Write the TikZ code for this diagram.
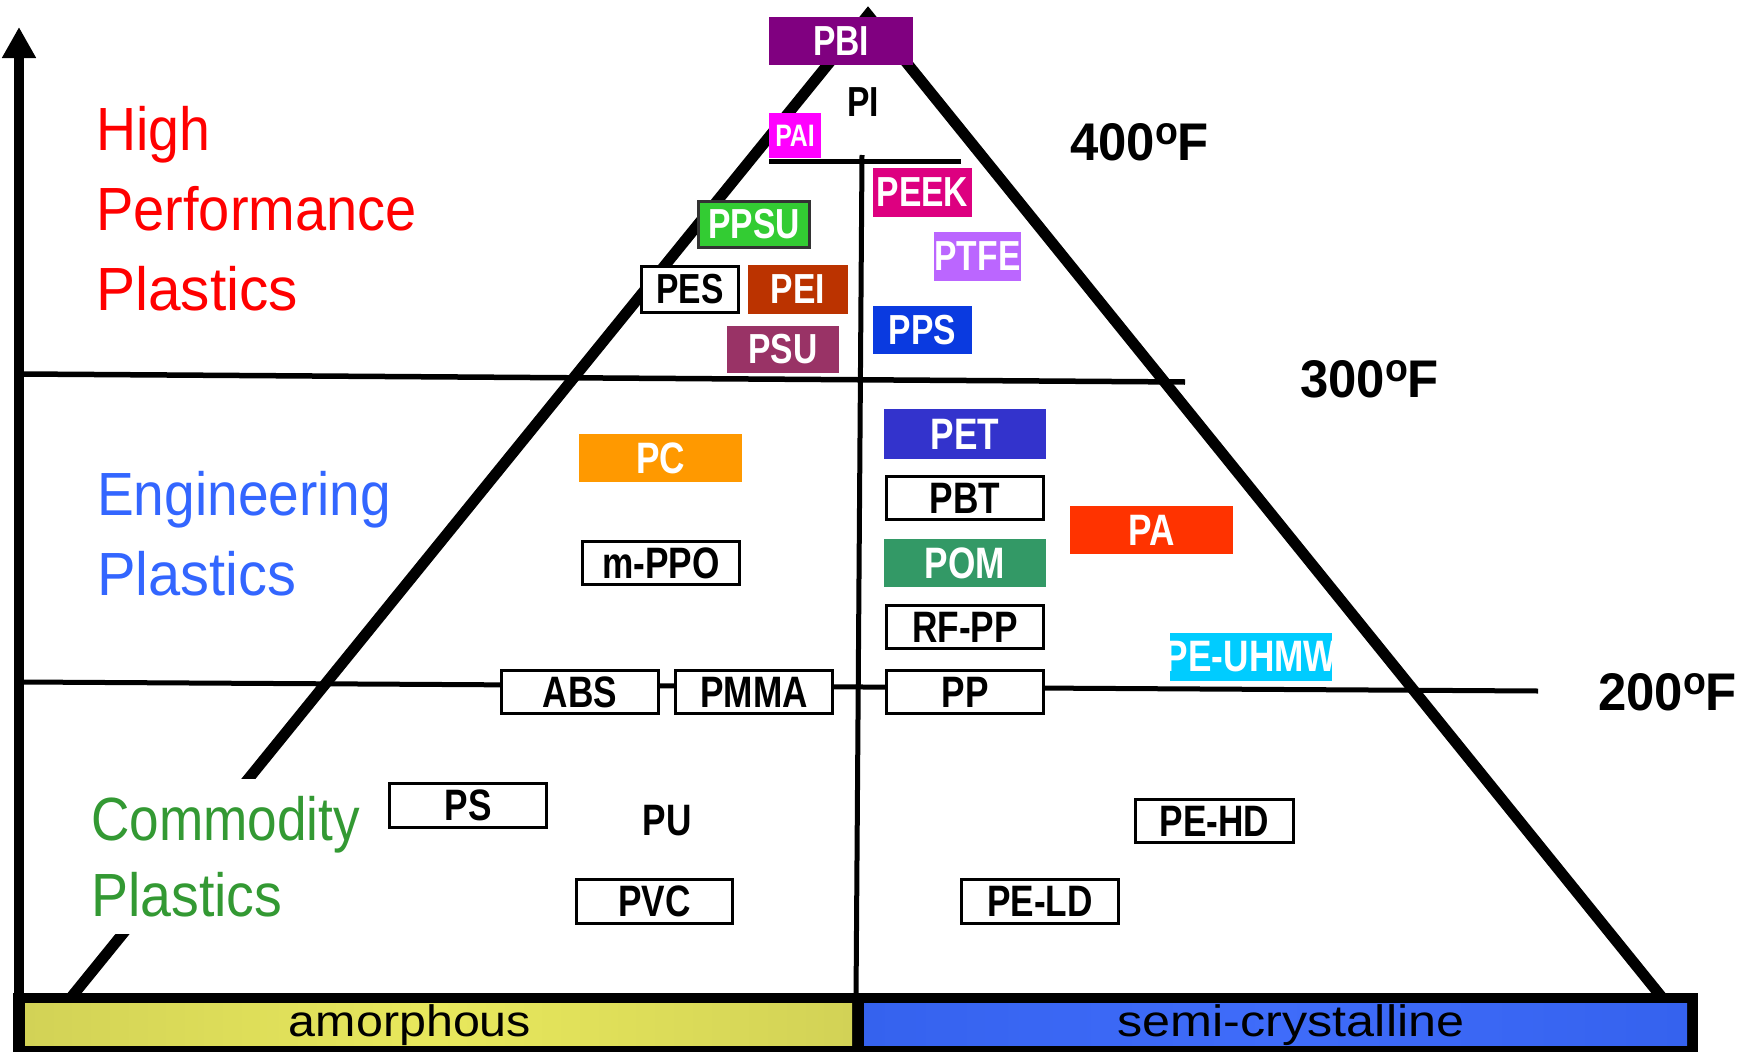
\documentclass[tikz,border=0pt]{standalone}
\usepackage{fontspec}
\setmainfont{Liberation Sans}
\newfontfamily\boxf{Liberation Sans}[FakeStretch=0.8]
\newfontfamily\catf{Liberation Sans}
\newfontfamily\tempf{Liberation Sans}[FakeStretch=0.96]
\newfontfamily\barf{Liberation Sans}[FakeStretch=1.1]
\usetikzlibrary{arrows.meta}
\newcommand\ctr[1]{\makebox[0pt]{#1}}
\newcommand\sx[2]{\scalebox{#1}[1]{#2}}
\newcommand\upf{\boxf\bfseries\fontsize{42}{42}\selectfont}
\newcommand\lowf{\boxf\bfseries\fontsize{44}{44}\selectfont}
\newcommand\paif{\boxf\bfseries\fontsize{31}{31}\selectfont}
\newcommand\degsign{\raisebox{16pt}{\fontsize{39}{39}\selectfont o}}
\definecolor{cPBI}{HTML}{800080}
\definecolor{cPAI}{HTML}{FF00FF}
\definecolor{cPEEK}{HTML}{DD0080}
\definecolor{cPPSU}{HTML}{33CC33}
\definecolor{cPEI}{HTML}{BB3300}
\definecolor{cPSU}{HTML}{993366}
\definecolor{cPTFE}{HTML}{BB66FF}
\definecolor{cPPS}{HTML}{0A3AE0}
\definecolor{cPC}{HTML}{FF9900}
\definecolor{cPET}{HTML}{3333CC}
\definecolor{cPA}{HTML}{FF3300}
\definecolor{cPOM}{HTML}{339966}
\definecolor{cUHMW}{HTML}{00CCFF}
\definecolor{cHP}{HTML}{FF0000}
\definecolor{cEP}{HTML}{3366FF}
\definecolor{cCP}{HTML}{339933}
\definecolor{barY}{HTML}{D2D256}
\definecolor{barYm}{HTML}{E8E85C}
\definecolor{barB}{HTML}{3562EE}
\definecolor{barBm}{HTML}{3F6CFA}
\begin{document}
\begin{tikzpicture}[x=1pt,y=-1pt,
  fbox/.style={inner sep=0pt, outer sep=0pt, text=white, draw=none},
  wbox/.style={inner sep=0pt, outer sep=0pt, text=black, fill=white, draw=black, line width=3pt},
  plain/.style={inner sep=0pt, outer sep=0pt, text=black},
  cat/.style={inner sep=0pt, anchor=base west, font=\catf\fontsize{61}{61}\selectfont},
  temp/.style={inner sep=0pt, anchor=base west, font=\tempf\bfseries\fontsize{53}{53}\selectfont},
  edge/.style={line width=11pt, line join=miter},
  divline/.style={line width=5pt},
  barlabel/.style={inner sep=0pt, anchor=base, text=black, font=\barf\fontsize{44}{44}\selectfont}]
\useasboundingbox (0,0) rectangle (1754,1052);
% coordinates
\coordinate (apex) at (868,15);
\coordinate (bl) at (69,1000);
\coordinate (br) at (1664,1000);
\coordinate (ctop) at (862,155);
\coordinate (cbot) at (856,1000);
\coordinate (l400a) at (769,161);
\coordinate (l400b) at (961,161);
\coordinate (l300a) at (22,374);
\coordinate (l300b) at (1185,382);
\coordinate (l200a) at (22,682);
\coordinate (l200b) at (1538,691);
\coordinate (axbot) at (19,1000);
\coordinate (axtop) at (19,27);
% lines
\draw[divline] (l400a) -- (l400b);
\draw[line width=5.5pt] (l300a) -- (l300b);
\draw[divline] (l200a) -- (l200b);
\draw[divline] (ctop) -- (cbot);
\draw[edge] (bl) -- (apex) -- (br);
\draw[line width=10pt, -{Triangle[width=32pt,length=31pt]}] (axbot) -- (axtop);
% bottom bar
\fill[black] (13,993) rectangle (1698,1052);
\shade[left color=barY, right color=barY, middle color=barYm] (25,1003) rectangle (852,1045);
\shade[left color=barB, right color=barB, middle color=barBm] (864,1003) rectangle (1687,1045);
\node[barlabel] (amor) at (410,1036) {amorphous};
\node[barlabel] (semi) at (1291,1036) {\sx{1.04}{semi-crystalline}};
% commodity background
\node[fill=white, inner sep=0pt, minimum width=300pt, minimum height=155pt] (cpbg) at (225,856.5) {};
% category labels
\node[cat, text=cHP] (hp1) at (96,150) {\sx{0.91}{High}};
\node[cat, text=cHP] (hp2) at (96,230) {\sx{0.918}{Performance}};
\node[cat, text=cHP] (hp3) at (96,310) {\sx{0.96}{Plastics}};
\node[cat, text=cEP] (ep1) at (97,515) {\sx{0.903}{Engineering}};
\node[cat, text=cEP] (ep2) at (97,595) {\sx{0.948}{Plastics}};
\node[cat, text=cCP] (cp1) at (91,840) {\sx{0.871}{Commodity}};
\node[cat, text=cCP] (cp2) at (91,916) {\sx{0.91}{Plastics}};
% temperatures
\node[temp] (t400) at (1070,160) {400\degsign F};
\node[temp] (t300) at (1300,397) {300\degsign F};
\node[temp] (t200) at (1598,710) {200\degsign F};
% high performance boxes
\node[fbox, fill=cPBI, minimum width=144pt, minimum height=48pt, font=\upf] (pbi) at (841,41) {\ctr{PBI}};
\node[plain, font=\upf] (pi) at (863,102) {\ctr{PI}};
\node[fbox, fill=cPAI, minimum width=52pt, minimum height=45pt, font=\paif] (pai) at (795,135.5) {\ctr{PAI}};
\node[fbox, fill=cPEEK, minimum width=99pt, minimum height=49pt, font=\upf] (peek) at (922.5,192.5) {\ctr{PEEK}};
\node[fbox, fill=cPPSU, draw=black!80, line width=2.5pt, minimum width=111pt, minimum height=46pt, font=\upf] (ppsu) at (754,224.5) {\ctr{PPSU}};
\node[wbox, minimum width=97pt, minimum height=46pt, font=\upf] (pes) at (690,289.5) {\ctr{PES}};
\node[fbox, fill=cPEI, minimum width=100pt, minimum height=49pt, font=\upf] (pei) at (798,289.5) {\ctr{PEI}};
\node[fbox, fill=cPSU, minimum width=112pt, minimum height=47pt, font=\upf] (psu) at (783,349.5) {\ctr{PSU}};
\node[fbox, fill=cPTFE, minimum width=87pt, minimum height=49pt, font=\upf] (ptfe) at (977.5,256.5) {\ctr{PTFE}};
\node[fbox, fill=cPPS, minimum width=99pt, minimum height=48pt, font=\upf] (pps) at (922.5,330) {\ctr{PPS}};
% engineering boxes
\node[fbox, fill=cPC, minimum width=163pt, minimum height=48pt, font=\lowf] (pc) at (660.5,458) {\ctr{PC}};
\node[fbox, fill=cPET, minimum width=162pt, minimum height=50pt, font=\lowf] (pet) at (965,434) {\ctr{PET}};
\node[wbox, minimum width=157pt, minimum height=43pt, font=\lowf] (pbt) at (965,498) {\ctr{PBT}};
\node[fbox, fill=cPA, minimum width=163pt, minimum height=48pt, font=\lowf] (pa) at (1151.5,530) {\ctr{PA}};
\node[fbox, fill=cPOM, minimum width=162pt, minimum height=48pt, font=\lowf] (pom) at (965,563) {\ctr{POM}};
\node[wbox, minimum width=157pt, minimum height=43pt, font=\lowf] (mppo) at (661,563) {\ctr{m-PPO}};
\node[wbox, minimum width=157pt, minimum height=43pt, font=\lowf] (rfpp) at (965,627) {\ctr{RF-PP}};
\node[fbox, fill=cUHMW, minimum width=162pt, minimum height=48pt, font=\lowf] (uhmw) at (1251,657) {\ctr{PE-UHMW}};
% 200F row
\node[wbox, minimum width=157pt, minimum height=43pt, font=\lowf] (abs) at (580,692) {\ctr{ABS}};
\node[wbox, minimum width=157pt, minimum height=43pt, font=\lowf] (pmma) at (754,692) {\ctr{PMMA}};
\node[wbox, minimum width=157pt, minimum height=43pt, font=\lowf] (pp) at (965,692) {\ctr{PP}};
% commodity boxes
\node[wbox, minimum width=157pt, minimum height=44pt, font=\lowf] (ps) at (468,805.5) {\ctr{PS}};
\node[plain, font=\lowf] (pu) at (667,821) {\ctr{PU}};
\node[wbox, minimum width=156pt, minimum height=44pt, font=\lowf] (pvc) at (654.5,901.5) {\ctr{PVC}};
\node[wbox, minimum width=157pt, minimum height=44pt, font=\lowf] (peld) at (1040,901.5) {\ctr{PE-LD}};
\node[wbox, minimum width=158pt, minimum height=43pt, font=\lowf] (pehd) at (1214.5,821) {\ctr{PE-HD}};
\end{tikzpicture}
\end{document}
